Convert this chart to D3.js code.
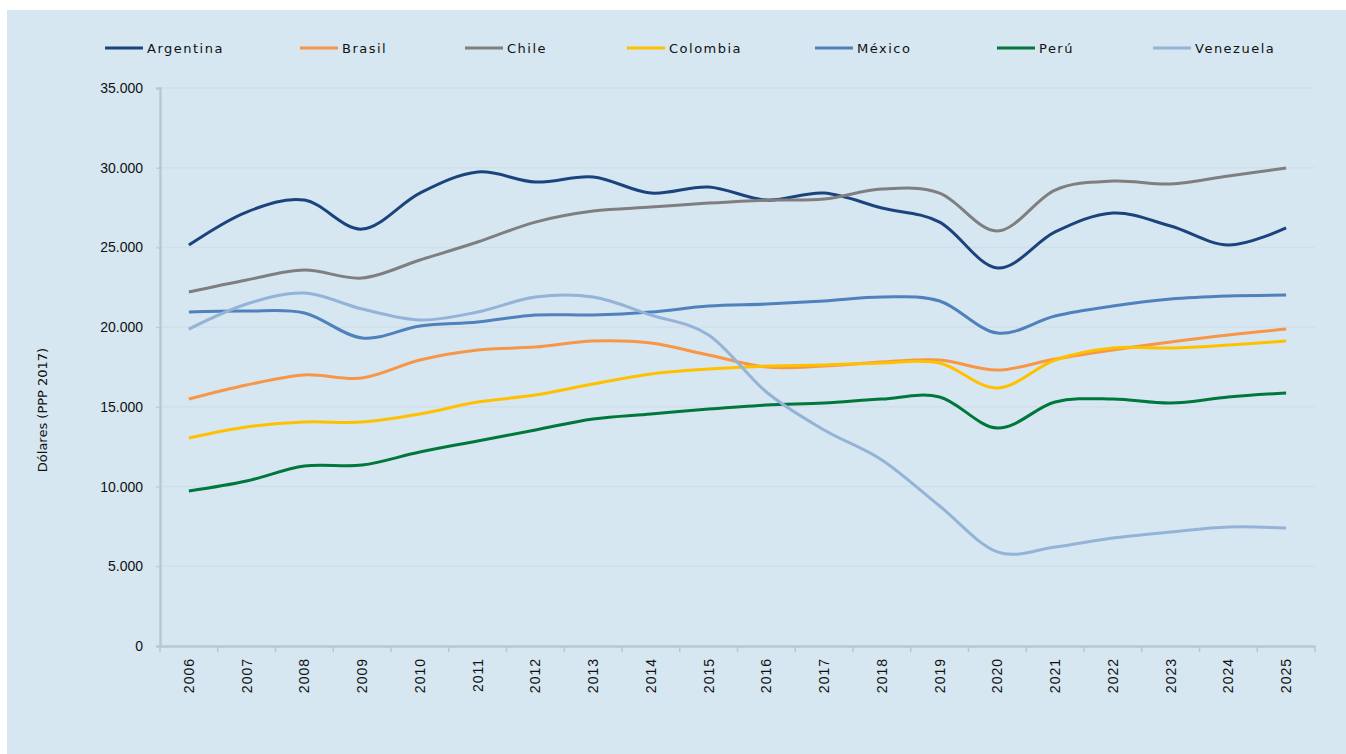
<!DOCTYPE html>
<html>
<head>
<meta charset="utf-8">
<script src="https://cdn.jsdelivr.net/npm/d3@7"></script>
<style>
  body { margin: 0; background: #fff; }
  svg { display: block; font-family: "DejaVu Sans", Verdana, sans-serif; }
</style>
</head>
<body>
<div id="app"></div>
<script>
const container = document.querySelector('#app');

// chart size
const width = 1346;
const height = 754;
const marginTop = 88;
const marginRight = 31;
const marginBottom = 108;
const marginLeft = 160;

// data (USD PPP 2017)
const years = ["2006","2007","2008","2009","2010","2011","2012","2013","2014","2015",
               "2016","2017","2018","2019","2020","2021","2022","2023","2024","2025"];
const yTicks = [0, 5000, 10000, 15000, 20000, 25000, 30000, 35000];

const argentina = [25150, 27220, 27970, 26150, 28410, 29730, 29100, 29420, 28410, 28790,
                   27970, 28410, 27470, 26590, 23710, 25970, 27160, 26340, 25150, 26220];
const brasil    = [15490, 16370, 17000, 16810, 17940, 18570, 18750, 19130, 19000, 18250,
                   17500, 17560, 17810, 17940, 17310, 18000, 18570, 19070, 19510, 19880];
const chile     = [22200, 22960, 23580, 23080, 24210, 25340, 26590, 27280, 27530, 27780,
                   27970, 28040, 28660, 28410, 26030, 28600, 29160, 28980, 29480, 29980];
const colombia  = [13050, 13740, 14050, 14050, 14550, 15300, 15740, 16430, 17060, 17370,
                   17560, 17620, 17750, 17750, 16180, 17940, 18690, 18690, 18880, 19130];
const mexico    = [20950, 21010, 20890, 19320, 20070, 20320, 20760, 20760, 20950, 21320,
                   21450, 21640, 21890, 21640, 19630, 20700, 21320, 21760, 21950, 22010];
const peru      = [9720, 10350, 11290, 11350, 12170, 12860, 13550, 14240, 14550, 14860,
                   15110, 15240, 15490, 15620, 13670, 15300, 15490, 15240, 15620, 15870];
const venezuela = [19880, 21450, 22140, 21140, 20450, 20950, 21890, 21890, 20760, 19510,
                   15930, 13550, 11670, 8780, 5900, 6210, 6770, 7150, 7460, 7400];

const countries = ["Argentina", "Brasil", "Chile", "Colombia", "México", "Perú", "Venezuela"];
const colors = ["#1b437c", "#f79646", "#7f7f7f", "#ffc000", "#4f81bd", "#00773b", "#95b3d7"];
const series = [argentina, brasil, chile, colombia, mexico, peru, venezuela];

// scales
const x = d3.scaleBand()
    .domain(years)
    .range([marginLeft, width - marginRight]);

const y = d3.scaleLinear()
    .domain([0, 35000])
    .range([height - marginBottom, marginTop]);

const fmt = d3.formatLocale({ decimal: ",", thousands: ".", grouping: [3], currency: ["", ""] }).format(",");

// svg
const svg = d3.create("svg")
    .attr("width", width)
    .attr("height", height);

// blue panel
svg.append("rect")
    .attr("x", 7)
    .attr("y", 10)
    .attr("width", width - 7)
    .attr("height", height - 10)
    .attr("fill", "#d6e7f1");

// grid lines
svg.append("g")
  .selectAll("line")
  .data(yTicks.filter(d => d > 0))
  .join("line")
    .attr("x1", marginLeft - 4)
    .attr("x2", width - marginRight)
    .attr("y1", d => y(d))
    .attr("y2", d => y(d))
    .attr("stroke", "#d0dfe9")
    .attr("stroke-width", 1.5);

// y axis
const yAxis = svg.append("g")
    .attr("transform", `translate(${marginLeft},0)`)
    .call(d3.axisLeft(y).tickValues(yTicks).tickFormat(d => fmt(d)).tickSize(4).tickPadding(13));
yAxis.select(".domain").attr("stroke", "#bac7d0").attr("stroke-width", 2.5);
yAxis.selectAll(".tick line").attr("stroke", "#bac7d0");
yAxis.selectAll("text").attr("font-size", 14).attr("fill", "#111");

// x axis (labels centred on categories, ticks between them)
const xAxis = svg.append("g")
    .attr("transform", `translate(0,${height - marginBottom})`)
    .call(d3.axisBottom(x).tickSize(0));
xAxis.select(".domain").attr("stroke", "#bac7d0").attr("stroke-width", 2.5);
xAxis.selectAll(".tick text")
    .attr("font-size", 14)
    .attr("letter-spacing", 1)
    .attr("fill", "#111")
    .attr("text-anchor", "end")
    .attr("transform", "rotate(-90)")
    .attr("x", -12)
    .attr("y", 0)
    .attr("dy", "0.35em");

xAxis.append("g")
  .selectAll("line")
  .data(years.concat(["end"]))
  .join("line")
    .attr("x1", d => d === "end" ? x.range()[1] : x(d))
    .attr("x2", d => d === "end" ? x.range()[1] : x(d))
    .attr("y1", 0)
    .attr("y2", 6)
    .attr("stroke", "#bac7d0")
    .attr("stroke-width", 1.5);

// y axis title
svg.append("text")
    .attr("transform", `translate(42,410) rotate(-90)`)
    .attr("text-anchor", "middle")
    .attr("dy", "0.35em")
    .attr("font-size", 13)
    .attr("fill", "#111")
    .text("Dólares (PPP 2017)");

// lines
const line = d3.line()
    .x((d, i) => x(years[i]) + x.bandwidth() / 2)
    .y(d => y(d))
    .curve(d3.curveCatmullRom.alpha(0));

series.forEach((s, i) => {
  svg.append("path")
    .datum(s)
    .attr("fill", "none")
    .attr("stroke", colors[i])
    .attr("stroke-width", 3)
    .attr("d", line);
});

// legend
const legendX = [105, 300, 465, 627, 815, 997, 1153];
const legend = svg.append("g");
countries.forEach((c, i) => {
  const g = legend.append("g").attr("transform", `translate(${legendX[i]},48)`);
  g.append("line")
    .attr("x1", 0).attr("x2", 38)
    .attr("stroke", colors[i])
    .attr("stroke-width", 3);
  g.append("text")
    .attr("x", 42)
    .attr("dy", "0.35em")
    .attr("font-size", 13)
    .attr("letter-spacing", 1.5)
    .attr("fill", "#111")
    .text(c);
});

container.append(svg.node());
</script>
</body>
</html>
